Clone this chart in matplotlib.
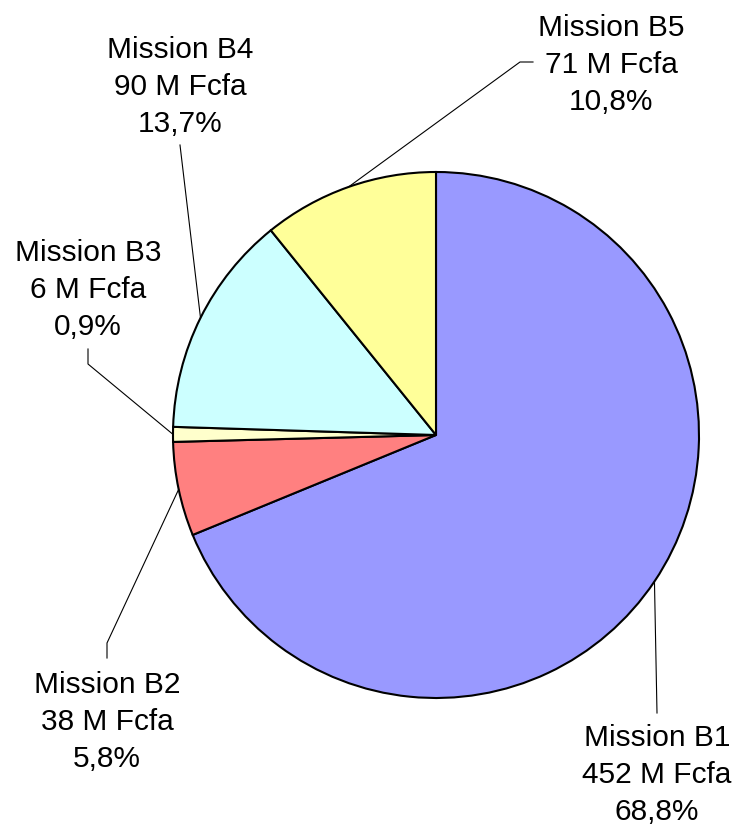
import numpy as np
import matplotlib
matplotlib.use("Agg")
import matplotlib.pyplot as plt

labels = ["Mission B1", "Mission B2", "Mission B3", "Mission B4", "Mission B5"]
values = [452, 38, 6, 90, 71]
amount_labels = ["452 M Fcfa", "38 M Fcfa", "6 M Fcfa", "90 M Fcfa", "71 M Fcfa"]
pct_labels = ["68,8%", "5,8%", "0,9%", "13,7%", "10,8%"]
colors = ["#9999FF", "#FF8080", "#FFFFCC", "#CCFFFF", "#FFFF99"]

W, H = 737, 827
fig = plt.figure(figsize=(W / 100, H / 100), dpi=100)
ax = fig.add_axes([0, 0, 1, 1])

def Y(py):
    return H - py

cx, cy, R = 436, Y(435), 263
wedges, _ = ax.pie(values, colors=colors, startangle=90, counterclock=False,
                   center=(cx, cy), radius=R, frame=True,
                   wedgeprops=dict(edgecolor="black", linewidth=1.5))
ax.set_xlim(0, W)
ax.set_ylim(0, H)
ax.set_aspect("equal")
ax.axis("off")

# label layout (pixel coords): text center x, baseline of middle line, leader path after wedge edge
layout = [
    ((657, 783), [(657, 713)]),
    ((107, 730), [(107, 643), (107, 658)]),
    ((88, 298), [(88, 364), (88, 349)]),
    ((180, 95), [(180, 145)]),
    ((611, 73), [(520, 62), (533, 62)]),
]

LS = 37
for w, lab, amt, pct, (tc, path) in zip(wedges, labels, amount_labels, pct_labels, layout):
    ang = np.deg2rad((w.theta1 + w.theta2) / 2)
    ex, ey = cx + R * np.cos(ang), cy + R * np.sin(ang)
    xs = [ex] + [p[0] for p in path]
    ys = [ey] + [Y(p[1]) for p in path]
    ax.plot(xs, ys, color="black", linewidth=0.8)
    for k, line in enumerate([lab, amt, pct]):
        ax.text(tc[0], Y(tc[1] + (k - 1) * LS), line, ha="center", va="baseline",
                fontsize=21.5, family="Liberation Sans")

fig.savefig("out.png", dpi=100)
